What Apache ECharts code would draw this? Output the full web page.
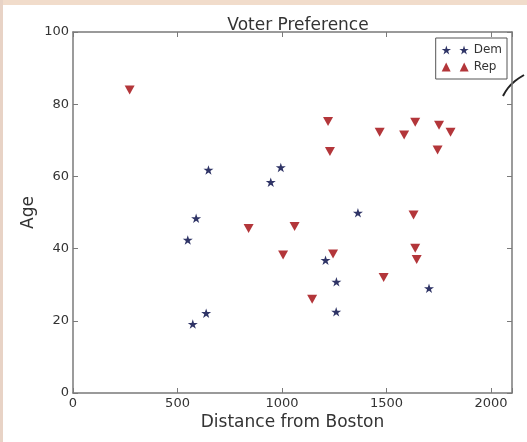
<!DOCTYPE html>
<html>
<head>
<meta charset="utf-8">
<script src="https://cdn.jsdelivr.net/npm/echarts@6/dist/echarts.min.js"></script>
<style>
html,body{margin:0;padding:0;background:#fff;}
#chart{width:527px;height:442px;}
</style>
</head>
<body>
<div id="chart"></div>
<script>
// ---- data ----
var demX = [648, 994, 946, 589, 549, 1363, 1208, 1260, 1703, 573, 637, 1259];
var demY = [61.8, 62.5, 58.4, 48.4, 42.4, 49.9, 36.8, 30.8, 29.0, 19.1, 22.1, 22.5];
var repX = [840, 1060, 1005, 1244, 1629, 1637, 1644, 1486, 1144, 1229, 1744, 271, 1220, 1467, 1584, 1637, 1751, 1806];
var repY = [45.6, 46.1, 38.2, 38.5, 49.3, 40.1, 37.0, 32.0, 26.0, 66.9, 67.3, 83.9, 75.2, 72.2, 71.5, 75.0, 74.2, 72.2];
var seriesNames = ['Dem', 'Rep'];
var xTicks = [0, 500, 1000, 1500, 2000];

function starPath(cx, cy, R, r) {
  var s = '';
  for (var i = 0; i < 10; i++) {
    var rad = (i % 2 === 0) ? R : r;
    var a = -Math.PI / 2 + i * Math.PI / 5;
    var x = cx + rad * Math.cos(a), y = cy + rad * Math.sin(a);
    s += (i === 0 ? 'M' : 'L') + x.toFixed(3) + ' ' + y.toFixed(3) + ' ';
  }
  return s + 'Z ';
}
var starSym = 'path://' + starPath(5, 5, 5, 1.91);
var starLegend = 'path://' + starPath(5, 5, 5, 1.91) + starPath(23, 5, 5, 1.91);
var triLegend = 'path://M0 9 L4.5 0 L9 9 Z M18 9 L22.5 0 L27 9 Z';

function zip(a, b) { return a.map(function (v, i) { return [v, b[i]]; }); }

var FONT = 'DejaVu Sans';
var axisColor = '#7a7a7a';
var labelColor = '#333';

var chart = echarts.init(document.getElementById('chart'), null, {renderer: 'canvas'});
chart.setOption({
  backgroundColor: '#ffffff',
  animation: false,
  title: {
    text: 'Voter Preference',
    left: 293, top: 12, textAlign: 'center',
    textStyle: {fontFamily: FONT, fontSize: 17, fontWeight: 'normal', color: '#333'}
  },
  legend: {
    orient: 'vertical',
    right: 20, top: 38,
    borderColor: '#555', borderWidth: 1,
    padding: [6, 5, 6, 6],
    itemGap: 5,
    itemWidth: 27, itemHeight: 9,
    itemTextGap: 5,
    textStyle: {fontFamily: FONT, fontSize: 12, color: '#333'},
    data: [
      {name: seriesNames[0], icon: starLegend},
      {name: seriesNames[1], icon: triLegend}
    ]
  },
  grid: {left: 73, top: 32, right: 15, bottom: 49, containLabel: false},
  xAxis: [{
    type: 'value', min: 0, max: 2100, interval: 500, position: 'bottom',
    name: 'Distance from Boston', nameLocation: 'middle', nameGap: 21,
    nameMoveOverlap: false,
    nameTextStyle: {fontFamily: FONT, fontSize: 17, color: '#333'},
    axisLine: {show: true, onZero: false, lineStyle: {color: axisColor, width: 1.5}},
    axisTick: {show: true, inside: true, length: 5, lineStyle: {color: axisColor}},
    axisLabel: {fontFamily: FONT, fontSize: 13, color: labelColor, margin: 4,
      formatter: function (v) { return xTicks.indexOf(v) >= 0 ? String(v) : ''; }},
    splitLine: {show: false}
  }, {
    type: 'value', min: 0, max: 2100, interval: 500, position: 'top',
    axisLine: {show: true, onZero: false, lineStyle: {color: axisColor, width: 1.5}},
    axisTick: {show: true, inside: true, length: 5, lineStyle: {color: axisColor}},
    axisLabel: {show: false},
    splitLine: {show: false}
  }],
  yAxis: [{
    type: 'value', min: 0, max: 100, interval: 20, position: 'left',
    name: 'Age', nameLocation: 'middle', nameGap: 36, nameRotate: 90,
    nameMoveOverlap: false,
    nameTextStyle: {fontFamily: FONT, fontSize: 17, color: '#333'},
    axisLine: {show: true, onZero: false, lineStyle: {color: axisColor, width: 1.5}},
    axisTick: {show: true, inside: true, length: 5, lineStyle: {color: axisColor}},
    axisLabel: {fontFamily: FONT, fontSize: 13, color: labelColor, margin: 4},
    splitLine: {show: false}
  }, {
    type: 'value', min: 0, max: 100, interval: 20, position: 'right',
    axisLine: {show: true, onZero: false, lineStyle: {color: axisColor, width: 1.5}},
    axisTick: {show: true, inside: true, length: 5, lineStyle: {color: axisColor}},
    axisLabel: {show: false},
    splitLine: {show: false}
  }],
  series: [{
    name: seriesNames[0], type: 'scatter',
    xAxisIndex: 0, yAxisIndex: 0,
    symbol: starSym, symbolSize: [10, 9.5],
    itemStyle: {color: '#2f3466', opacity: 1},
    data: zip(demX, demY)
  }, {
    name: seriesNames[1], type: 'scatter',
    xAxisIndex: 0, yAxisIndex: 0,
    symbol: 'triangle', symbolRotate: 180, symbolSize: [10, 9],
    itemStyle: {color: '#b3363a', opacity: 1},
    data: zip(repX, repY)
  }],
  graphic: [
    {type: 'rect', shape: {x: 0, y: 0, width: 527, height: 5}, style: {fill: '#f1dccb'}, silent: true, z: -10},
    {type: 'rect', shape: {x: 0, y: 0, width: 3, height: 442}, style: {fill: '#e8d3c6'}, silent: true, z: -10},
    {type: 'polyline', shape: {points: [[503, 96], [508, 88], [515, 81], [524, 75]], smooth: 0.4},
      style: {stroke: '#222', lineWidth: 2, fill: null}, silent: true}
  ]
});
</script>
</body>
</html>
